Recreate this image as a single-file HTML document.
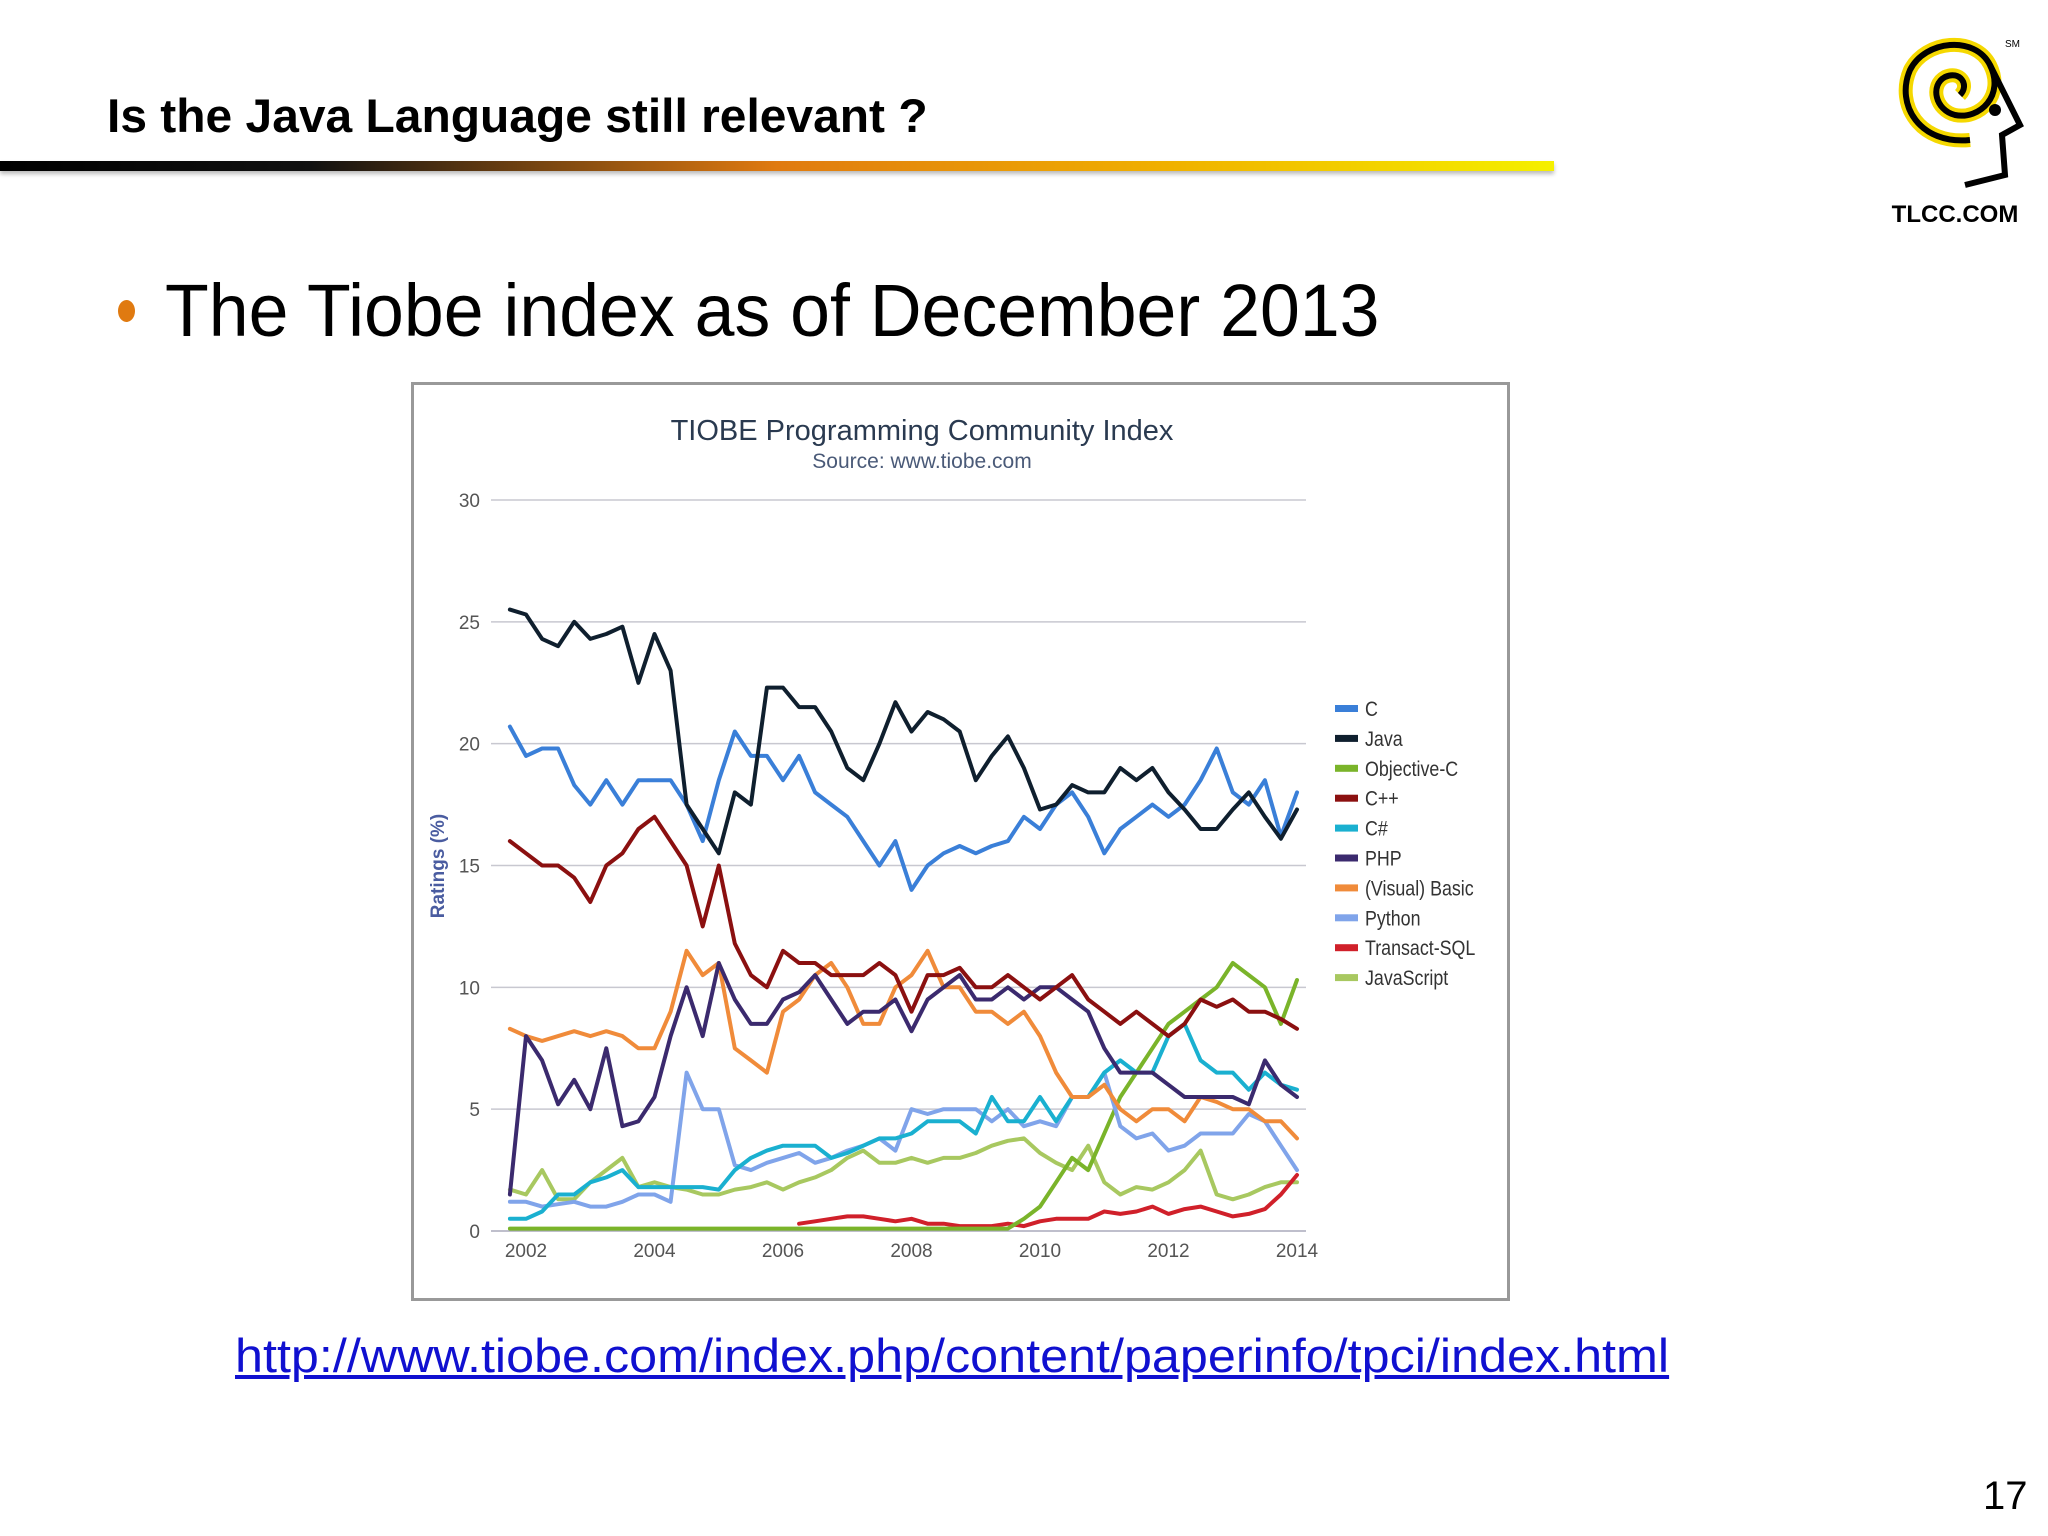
<!DOCTYPE html>
<html><head><meta charset="utf-8"><style>
html,body{margin:0;padding:0;background:#fff;}
body{width:2048px;height:1536px;position:relative;overflow:hidden;font-family:"Liberation Sans",sans-serif;}
.abs{position:absolute;}
</style></head><body>
<div class="abs" style="left:107px;top:88px;font-size:47px;font-weight:bold;color:#000;white-space:nowrap;transform:scaleX(1.02);transform-origin:left top;">Is the Java Language still relevant ?</div>
<div class="abs" style="left:0;top:161px;width:1554px;height:10px;background:linear-gradient(90deg,#000 0%,#111 20%,#e07a10 50%,#f0b000 75%,#f5f000 100%);box-shadow:0 3px 4px #bbb;"></div>
<svg class="abs" style="left:1880px;top:25px" width="160" height="210" viewBox="0 0 160 210">
<path d="M90 115 C40 120 15 80 30 45 C45 15 95 10 110 40 C125 70 100 95 75 90 C55 85 50 60 65 52 C80 45 90 60 80 70" fill="none" stroke="#f5d800" stroke-width="14"/>
<path d="M90 115 C40 120 15 80 30 45 C45 15 95 10 110 40 C125 70 100 95 75 90 C55 85 50 60 65 52 C80 45 90 60 80 70" fill="none" stroke="#000" stroke-width="6"/>
<path d="M110 40 L140 100 L122 110 L125 150 L85 160" fill="none" stroke="#000" stroke-width="6"/>
<circle cx="115" cy="85" r="6" fill="#000"/>
<text x="125" y="22" font-size="10" font-family="Liberation Sans">SM</text>
<text x="75" y="197" font-size="24" font-weight="bold" text-anchor="middle" font-family="Liberation Sans">TLCC.COM</text>
</svg>
<div class="abs" style="left:118px;top:300px;width:17px;height:22px;border-radius:50%;background:#e07a10;"></div>
<div class="abs" style="left:165px;top:268px;font-size:74px;color:#000;white-space:nowrap;transform:scaleX(0.968);transform-origin:left top;">The Tiobe index as of December 2013</div>
<div class="abs" style="left:411px;top:382px;width:1093px;height:913px;border:3px solid #999;background:#fff;"></div>
<svg id="chart" class="abs" style="left:0;top:0" width="2048" height="1536"></svg>
<a class="abs" href="#" style="left:235px;top:1328px;font-size:47px;color:#1010d0;text-decoration:underline;white-space:nowrap;transform:scaleX(1.07);transform-origin:left top;">http://www.tiobe.com/index.php/content/paperinfo/tpci/index.html</a>
<div class="abs" style="left:1983px;top:1474px;font-size:40px;color:#000;">17</div>
<script>
const names = ["C","Java","Objective-C","C++","C#","PHP","(Visual) Basic","Python","Transact-SQL","JavaScript"];
const colors = ["#3a7fd8","#0f1f2e","#7ab42a","#8b1010","#1ab0d0","#3b2a6e","#f08b3a","#80a4ea","#d0202a","#a8c860"];
const yTicks = [0,5,10,15,20,25,30];
const xTicks = [2002,2004,2006,2008,2010,2012,2014];
const startYear = 2001.75, stepYear = 0.25;
const sC = [20.7,19.5,19.8,19.8,18.3,17.5,18.5,17.5,18.5,18.5,18.5,17.5,16,18.5,20.5,19.5,19.5,18.5,19.5,18,17.5,17,16,15,16,14,15,15.5,15.8,15.5,15.8,16,17,16.5,17.5,18,17,15.5,16.5,17,17.5,17,17.5,18.5,19.8,18,17.5,18.5,16.2,18];
const sJava = [25.5,25.3,24.3,24,25,24.3,24.5,24.8,22.5,24.5,23,17.5,16.5,15.5,18,17.5,22.3,22.3,21.5,21.5,20.5,19,18.5,20,21.7,20.5,21.3,21,20.5,18.5,19.5,20.3,19,17.3,17.5,18.3,18,18,19,18.5,19,18,17.3,16.5,16.5,17.3,18,17,16.1,17.3];
const sObjC = [0.1,0.1,0.1,0.1,0.1,0.1,0.1,0.1,0.1,0.1,0.1,0.1,0.1,0.1,0.1,0.1,0.1,0.1,0.1,0.1,0.1,0.1,0.1,0.1,0.1,0.1,0.1,0.1,0.1,0.1,0.1,0.1,0.5,1,2,3,2.5,4,5.5,6.5,7.5,8.5,9,9.5,10,11,10.5,10,8.5,10.3];
const sCpp = [16,15.5,15,15,14.5,13.5,15,15.5,16.5,17,16,15,12.5,15,11.8,10.5,10,11.5,11,11,10.5,10.5,10.5,11,10.5,9,10.5,10.5,10.8,10,10,10.5,10,9.5,10,10.5,9.5,9,8.5,9,8.5,8,8.5,9.5,9.2,9.5,9,9,8.7,8.3];
const sCs = [0.5,0.5,0.8,1.5,1.5,2,2.2,2.5,1.8,1.8,1.8,1.8,1.8,1.7,2.5,3,3.3,3.5,3.5,3.5,3,3.2,3.5,3.8,3.8,4,4.5,4.5,4.5,4,5.5,4.5,4.5,5.5,4.5,5.5,5.5,6.5,7,6.5,6.5,8,8.5,7,6.5,6.5,5.8,6.5,6,5.8];
const sPHP = [1.5,8,7,5.2,6.2,5,7.5,4.3,4.5,5.5,8,10,8,11,9.5,8.5,8.5,9.5,9.8,10.5,9.5,8.5,9,9,9.5,8.2,9.5,10,10.5,9.5,9.5,10,9.5,10,10,9.5,9,7.5,6.5,6.5,6.5,6,5.5,5.5,5.5,5.5,5.2,7,6,5.5];
const sVB = [8.3,8,7.8,8,8.2,8,8.2,8,7.5,7.5,9,11.5,10.5,11,7.5,7,6.5,9,9.5,10.5,11,10,8.5,8.5,10,10.5,11.5,10,10,9,9,8.5,9,8,6.5,5.5,5.5,6,5,4.5,5,5,4.5,5.5,5.3,5,5,4.5,4.5,3.8];
const sPy = [1.2,1.2,1.0,1.1,1.2,1.0,1.0,1.2,1.5,1.5,1.2,6.5,5,5,2.7,2.5,2.8,3,3.2,2.8,3,3.3,3.5,3.8,3.3,5,4.8,5,5,5,4.5,5,4.3,4.5,4.3,5.5,5.5,6.5,4.3,3.8,4,3.3,3.5,4,4,4,4.8,4.5,3.5,2.5];
const sTSQL = [null,null,null,null,null,null,null,null,null,null,null,null,null,null,null,null,null,null,0.3,0.4,0.5,0.6,0.6,0.5,0.4,0.5,0.3,0.3,0.2,0.2,0.2,0.3,0.2,0.4,0.5,0.5,0.5,0.8,0.7,0.8,1.0,0.7,0.9,1.0,0.8,0.6,0.7,0.9,1.5,2.3];
const sJS = [1.7,1.5,2.5,1.3,1.3,2,2.5,3,1.8,2,1.8,1.7,1.5,1.5,1.7,1.8,2,1.7,2,2.2,2.5,3,3.3,2.8,2.8,3,2.8,3,3,3.2,3.5,3.7,3.8,3.2,2.8,2.5,3.5,2,1.5,1.8,1.7,2,2.5,3.3,1.5,1.3,1.5,1.8,2,2];
const series = [sC,sJava,sObjC,sCpp,sCs,sPHP,sVB,sPy,sTSQL,sJS];
const drawOrder = [9,8,2,7,4,6,5,3,0,1];

const NS="http://www.w3.org/2000/svg";
const svg=document.getElementById('chart');
const X0=491,X1=1306;
function xs(yr){return 526+(yr-2002)*(1297-526)/12;}
function ys(v){return 1231-v*(1231-500)/30;}
function mk(tag,attrs,parent){const e=document.createElementNS(NS,tag);for(const k in attrs)e.setAttribute(k,attrs[k]);(parent||svg).appendChild(e);return e;}

let t=mk('text',{x:922,y:440,'text-anchor':'middle','font-size':29,fill:'#2a3a50','font-family':'Liberation Sans'});


t.textContent='TIOBE Programming Community Index';
t=mk('text',{x:922,y:468,'text-anchor':'middle','font-size':21,fill:'#4a5a78','font-family':'Liberation Sans'});


t.textContent='Source: www.tiobe.com';
t=mk('text',{x:0,y:0,'text-anchor':'middle','font-size':19,'font-weight':'bold',fill:'#4a5ca0','font-family':'Liberation Sans',transform:'translate(444,866) rotate(-90)'});


t.textContent='Ratings (%)';

yTicks.forEach(v=>{
  const l=mk('line',{x1:X0,x2:X1,y1:ys(v),y2:ys(v),stroke:v===0?'#aab':'#c8c8d0','stroke-width':1.5});
  
  
  const tx=mk('text',{x:480,y:ys(v)+7,'text-anchor':'end','font-size':19,fill:'#555','font-family':'Liberation Sans'});
  
  
  tx.textContent=v;
});
xTicks.forEach(v=>{
  const tx=mk('text',{x:xs(v),y:1257,'text-anchor':'middle','font-size':19,fill:'#555','font-family':'Liberation Sans'});
  
  
  tx.textContent=v;
});
drawOrder.forEach(si=>{
  const vals=series[si];let d='';let pen=false;
  vals.forEach((v,i)=>{
    if(v===null){pen=false;return;}
    const x=xs(startYear+i*stepYear),y=ys(v);
    d+=(pen?'L':'M')+x.toFixed(1)+' '+y.toFixed(1);pen=true;
  });
  const p=mk('path',{d:d,fill:'none',stroke:colors[si],'stroke-width':4,'stroke-linejoin':'round','stroke-linecap':'round'});
  
  
});
names.forEach((n,i)=>{
  const y=708+i*29.9;
  const r=mk('rect',{x:1335,y:y-3,width:23,height:7,fill:colors[i]});
  
  
  const tx=mk('text',{x:1365,y:y+8,'font-size':21,fill:'#333','font-family':'Liberation Sans',transform:'translate(1365,0) scale(0.85,1) translate(-1365,0)'});
  
  
  tx.textContent=n;
});
</script>
</body></html>
